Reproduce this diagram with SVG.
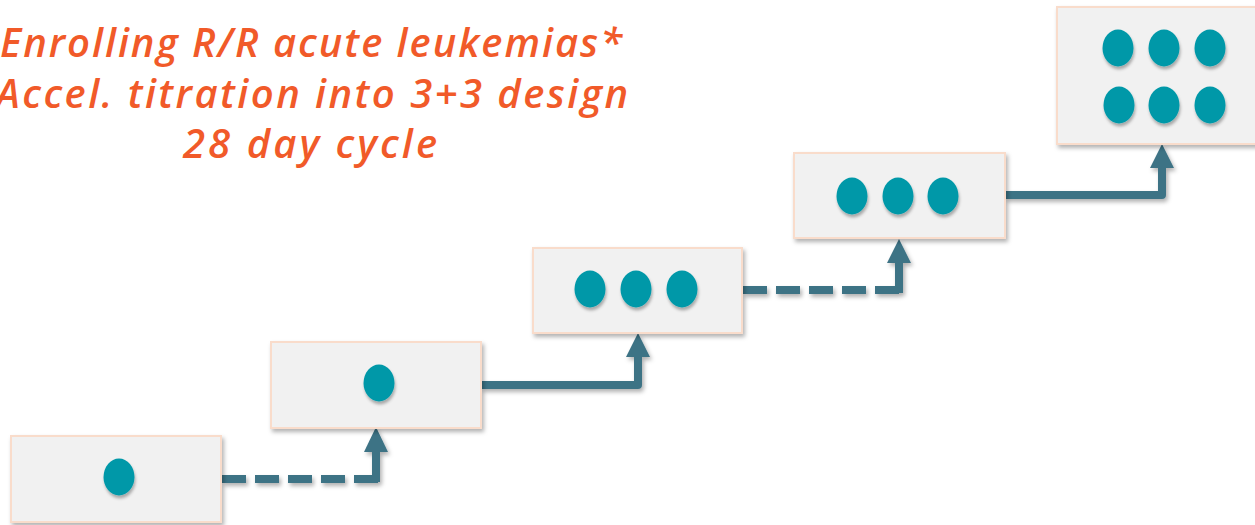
<svg xmlns="http://www.w3.org/2000/svg" width="1255" height="525" viewBox="0 0 1255 525">
  <defs>
    <filter id="shadow" x="-20%" y="-20%" width="150%" height="160%">
      <feDropShadow dx="2" dy="3" stdDeviation="2" flood-color="#000" flood-opacity="0.3"/>
    </filter>
    <filter id="dotShadow" x="-50%" y="-50%" width="200%" height="200%">
      <feDropShadow dx="1" dy="3" stdDeviation="1.5" flood-color="#000" flood-opacity="0.3"/>
    </filter>
  </defs>
  <style>
    .box { fill: #f1f1f1; stroke: #f9dccb; stroke-width: 2; filter: url(#shadow); }
    .dot { fill: #0398a8; filter: url(#dotShadow); }
    .line { fill: none; stroke: #3d7385; stroke-width: 8; stroke-linejoin: round; }
    .dash { stroke-dasharray: 24 9; }
    .head { fill: #3d7385; }
    .title { font-family: "Open Sans", "Liberation Sans", sans-serif; font-style: italic; font-weight: 600; font-size: 40px; fill: #f15a29; text-anchor: middle; }
  </style>

  <rect width="1255" height="525" fill="#ffffff"/>

  <g id="title">
    <text class="title" x="311" y="57" textLength="622" lengthAdjust="spacing">Enrolling R/R acute leukemias*</text>
    <text class="title" x="312" y="108" textLength="632" lengthAdjust="spacing">Accel. titration into 3+3 design</text>
    <text class="title" x="310" y="158" textLength="254" lengthAdjust="spacing">28 day cycle</text>
  </g>

  <!-- connectors between dose levels -->
  <g id="connectors" filter="url(#shadow)">
    <line class="line dash" x1="222" y1="479" x2="379" y2="479"/>
    <line class="line" x1="376" y1="482" x2="376" y2="450"/>
    <polygon class="head" points="364,452 388,452 376,427"/>

    <path class="line" d="M481,385 H638 V355"/>
    <polygon class="head" points="626,357 650,357 638,333"/>

    <line class="line dash" x1="743" y1="290" x2="903" y2="290"/>
    <line class="line" x1="899" y1="293" x2="899" y2="261"/>
    <polygon class="head" points="887,263 911,263 899,239"/>

    <path class="line" d="M1005,195 H1162 V166"/>
    <polygon class="head" points="1150,168 1174,168 1162,144"/>
  </g>

  <g id="level1">
    <rect class="box" x="11" y="436" width="210" height="86"/>
    <ellipse class="dot" cx="119" cy="477" rx="15.5" ry="18.5"/>
  </g>

  <g id="level2">
    <rect class="box" x="271" y="342" width="210" height="86"/>
    <ellipse class="dot" cx="379" cy="383" rx="15.5" ry="18.5"/>
  </g>

  <g id="level3">
    <rect class="box" x="533" y="248" width="209" height="85"/>
    <ellipse class="dot" cx="590" cy="289" rx="15.5" ry="18.5"/>
    <ellipse class="dot" cx="636" cy="289" rx="15.5" ry="18.5"/>
    <ellipse class="dot" cx="682" cy="289" rx="15.5" ry="18.5"/>
  </g>

  <g id="level4">
    <rect class="box" x="794" y="153" width="211" height="85"/>
    <ellipse class="dot" cx="852" cy="196" rx="15.5" ry="18.5"/>
    <ellipse class="dot" cx="898" cy="196" rx="15.5" ry="18.5"/>
    <ellipse class="dot" cx="943" cy="196" rx="15.5" ry="18.5"/>
  </g>

  <g id="level5">
    <rect class="box" x="1057" y="7" width="210" height="137"/>
    <ellipse class="dot" cx="1118" cy="48" rx="15.5" ry="18.5"/>
    <ellipse class="dot" cx="1164" cy="48" rx="15.5" ry="18.5"/>
    <ellipse class="dot" cx="1210" cy="48" rx="15.5" ry="18.5"/>
    <ellipse class="dot" cx="1119" cy="105" rx="15.5" ry="18.5"/>
    <ellipse class="dot" cx="1164" cy="105" rx="15.5" ry="18.5"/>
    <ellipse class="dot" cx="1210" cy="105" rx="15.5" ry="18.5"/>
  </g>
</svg>
